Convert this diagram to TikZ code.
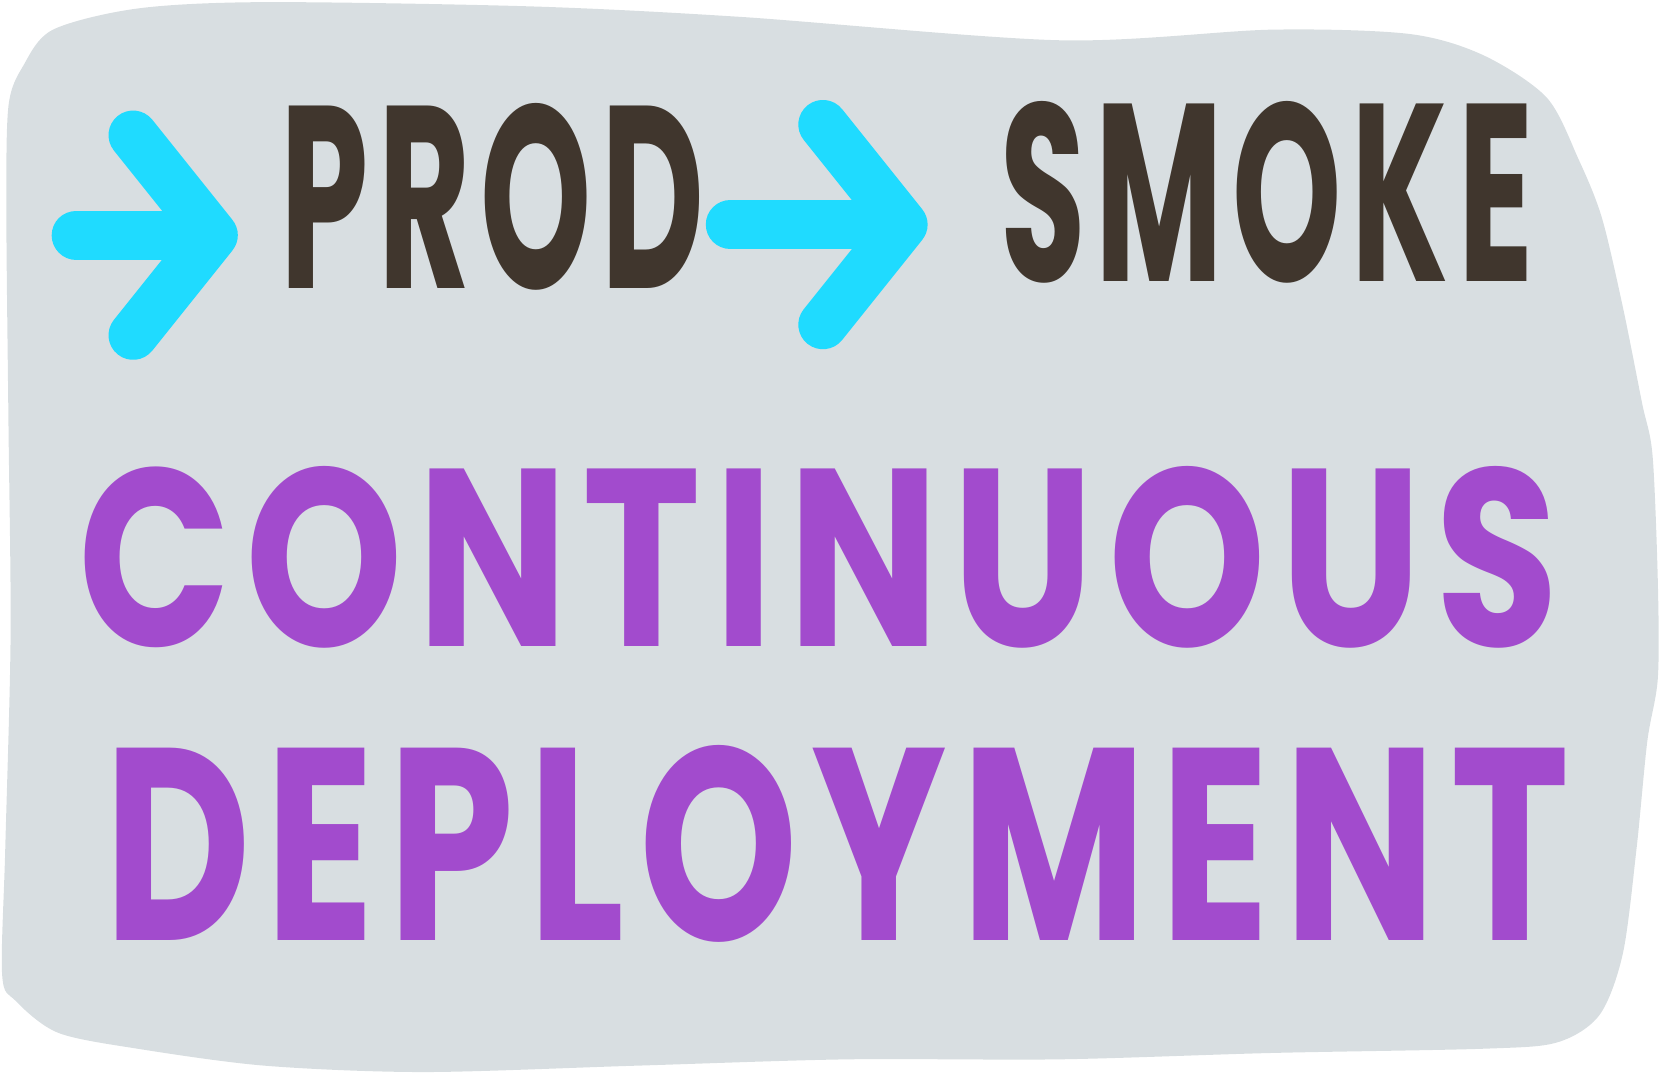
\documentclass[tikz,border=0pt]{standalone}
\usepackage{fontspec}
\usepackage{graphicx}
\setmainfont{Poppins}
\usetikzlibrary{arrows.meta}
\definecolor{bgblob}{HTML}{D8DEE1}
\definecolor{inkbrown}{HTML}{40362D}
\definecolor{inkcyan}{HTML}{1FDBFF}
\definecolor{inkpurple}{HTML}{A24BCD}
\newcommand{\handword}[3]{\resizebox{#1}{#2}{\bfseries\addfontfeatures{LetterSpace=7}#3}}
\tikzset{
  word/.style={inner sep=0pt, anchor=center},
  brownword/.style={word, text=inkbrown},
  purpleword/.style={word, text=inkpurple},
  cyanarrow/.style={draw=inkcyan, line width=14pt, line cap=round, line join=round,
    -{Straight Barb[round, length=0.8cm, width=2.0cm]}},
}
\begin{document}
\begin{tikzpicture}[x=0.010593cm, y=-0.010593cm]
\useasboundingbox (0,0) rectangle (1568,1019);
% background blob
\fill[bgblob] plot[smooth cycle, tension=0.5] coordinates {
 (8,100) (22,62) (50,28) (130,8) (250,2) (500,6) (700,16) (1000,38) (1200,28)
 (1330,32) (1400,52) (1460,92) (1490,150) (1512,205) (1532,290) (1550,380)
 (1560,430) (1565,550) (1565,640) (1555,700) (1545,800) (1532,900) (1510,958)
 (1470,984) (1400,990) (1200,994) (1000,1000) (800,1000) (600,1006) (400,1012)
 (250,1006) (130,990) (55,975) (15,945) (2,920) (5,800) (10,600) (8,400) (6,200)};
% words
\node[brownword] (prod) at (465,186) {\handword{4.24cm}{1.85cm}{PROD}};
\node[brownword] (smoke) at (1196,182) {\handword{5.33cm}{1.8cm}{SMOKE}};
\node[purpleword] (continuous) at (773,526) {\handword{14.8cm}{1.8cm}{CONTINUOUS}};
\node[purpleword] (deployment) at (790,797) {\handword{14.64cm}{1.95cm}{DEPLOYMENT}};
% arrows
\coordinate (arrowstart) at (72,222);
\draw[cyanarrow, shorten >=0.42cm] (arrowstart) -- (arrowstart -| prod.west);
\draw[cyanarrow, shorten <=0.25cm, shorten >=0.72cm] (prod.east |- 0,212) -- (smoke.west |- 0,212);
\end{tikzpicture}
\end{document}
